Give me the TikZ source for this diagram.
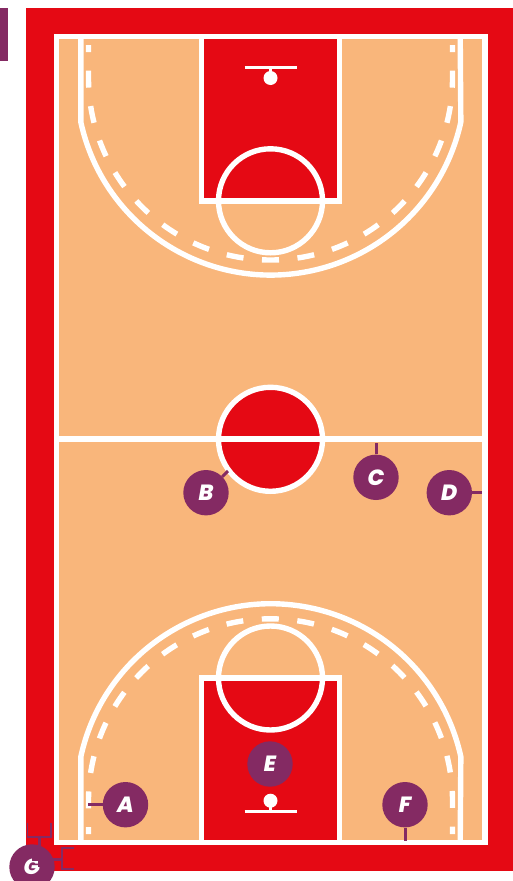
\documentclass[tikz,border=0pt]{standalone}
\usepackage{fontspec}
\setmainfont{Poppins}
\newfontfamily\playerfont{Poppins ExtraBold Italic}
\definecolor{courtred}{HTML}{E50914}
\definecolor{courtfloor}{HTML}{F9B67B}
\definecolor{playerpurple}{HTML}{842A63}
\tikzset{
  courtline/.style={draw=white, line width=5.4pt},
  dashline/.style={draw=white, line width=5.4pt, dash pattern=on 17pt off 18.6pt, dash phase=10pt},
  basket/.style={draw=white, line width=2.4pt},
  player/.style={circle, fill=playerpurple, text=white, minimum size=45.4pt, inner sep=0pt,
    font=\fontsize{22}{22}\selectfont\playerfont},
  link/.style={draw=playerpurple, line width=3pt},
  bracket/.style={draw=playerpurple, line width=1.8pt},
}
\begin{document}
\begin{tikzpicture}[x=1pt, y=-1pt]
  \useasboundingbox (0,0) rectangle (513,881);
  % ground
  \fill[courtred] (26,8) rectangle (513,871);
  \fill[playerpurple] (0,8) rectangle (8,61);
  \fill[courtfloor] (56.3,36.2) rectangle (485,842.6);
  % keys
  \draw[courtline, fill=courtred] (201.3,36.2) rectangle (339.7,200.8);
  \draw[courtline, fill=courtred] (201.3,678) rectangle (339.7,842.6);
  \draw[courtline] (270.5,200.8) circle[radius=52pt];
  \draw[courtline] (270.5,678) circle[radius=52pt];
  % three point lines
  \draw[courtline, line join=round] (80.8,36.2) -- (80.8,122) arc[start angle=192.3, end angle=347.7, radius=194.5pt] -- (460.2,36.2);
  \draw[courtline, line join=round] (80.8,842.6) -- (80.8,756.8) arc[start angle=167.7, end angle=12.3, radius=194.5pt] -- (460.2,842.6);
  \draw[dashline] (88.5,45) -- (88.5,78) arc[start angle=180, end angle=360, radius=182pt] -- (452.5,45);
  \draw[dashline] (88.5,834) -- (88.5,800.8) arc[start angle=180, end angle=0, radius=182pt] -- (452.5,834);
  % centre
  \draw[courtline, fill=courtred] (270.5,439.3) circle[radius=52pt];
  \draw[courtline, line width=6pt] (56.3,439.3) -- (485,439.3);
  \draw[courtline] (56.3,36.2) rectangle (485,842.6);
  % baskets
  \fill[white] (270.5,78) circle[radius=7pt];
  \draw[basket] (244.5,67.3) -- (296.8,67.3);
  \draw[basket] (270.5,67.3) -- (270.5,78);
  \fill[white] (270.5,800.7) circle[radius=7pt];
  \draw[basket] (244.5,811.3) -- (296.8,811.3);
  \draw[basket] (270.5,811.3) -- (270.5,800.7);
  % players
  \node[player] (a) at (125.5,804.7) {A};
  \node[player] (b) at (206,492.7)   {B};
  \node[player] (c) at (376,477.3)   {C};
  \node[player] (d) at (449.3,492.7) {D};
  \node[player] (e) at (270,764)     {E};
  \node[player] (f) at (405,804.7)   {F};
  \node[player] (g) at (32,867)      {G};
  \coordinate (aend) at (88,804.7);
  \coordinate (bend) at (228,471);
  \coordinate (cend) at (376,443);
  \coordinate (dend) at (482,492.7);
  \coordinate (fend) at (405,841);
  \coordinate (gtop) at (39,836.7);
  \coordinate (gright) at (62.3,859.3);
  \draw[link] (a) -- (aend);
  \draw[link] (b) -- (bend);
  \draw[link] (c) -- (cend);
  \draw[link] (d) -- (dend);
  \draw[link] (f) -- (fend);
  \draw[link] (gtop) -- (gtop |- g.center);
  \draw[link] (gright) -- (gright -| g.center);
  % brackets at the corner
  \draw[bracket] (27.5,823.3) -- (27.5,836.7) -- (51,836.7) -- (51,823.3);
  \draw[bracket] (73.7,848.3) -- (62.3,848.3) -- (62.3,869.3) -- (73.7,869.3);
\end{tikzpicture}
\end{document}
